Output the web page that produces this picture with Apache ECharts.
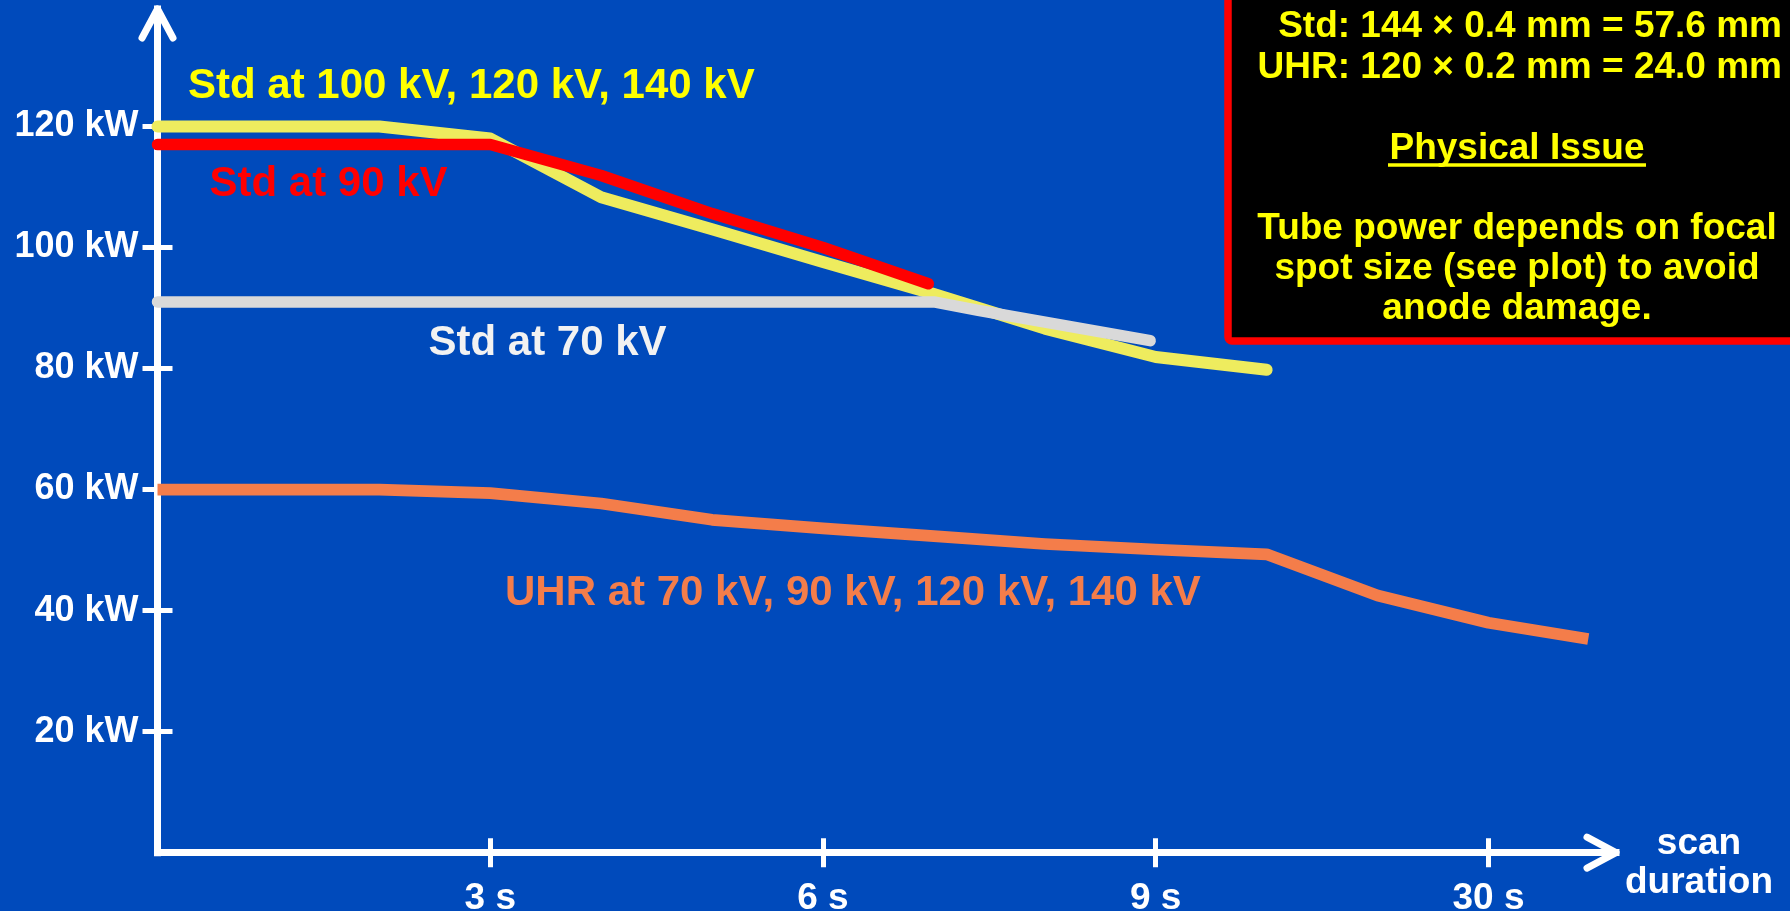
<!DOCTYPE html>
<html><head><meta charset="utf-8">
<script src="https://cdn.jsdelivr.net/npm/echarts@6/dist/echarts.min.js"></script>
<style>html,body{margin:0;padding:0;background:#004ABB;overflow:hidden;} #c{width:1790px;height:911px;}</style>
</head><body><div id="c"></div>
<script>
// ---- data ----
const xTickValues = [3, 6, 9, 12];
const xTickLabels = ['3 s', '6 s', '9 s', '30 s'];
const yTickValues = [20, 40, 60, 80, 100, 120];
const xAxisName = ['scan', 'duration'];
const stdHighKV = [[0,120],[2,120],[3,118],[4,108.3],[5,103],[6,97.6],[7,92.3],[8,86.6],[9,81.9],[10,79.8]];
const std90KV = [[0,117],[3,117],[4,111.9],[5,105.6],[6,100],[6.95,94]];
const std70KV = [[0,91],[7,91],[7.4,89.6],[8.95,84.6]];
const uhrAll = [[0,60],[2,60],[3,59.4],[4,57.7],[5,55],[6,53.6],[7,52.3],[8,51],[9,50.1],[10,49.3],[11,42.5],[12,38],[12.9,35.3]];
const xMax = 13.15, yMax = 139.4;

const FONT = '"Liberation Sans", Arial, sans-serif';
const WHITE = '#ffffff';

const chart = echarts.init(document.getElementById('c'), null, {renderer: 'canvas'});

function lineSeries(name, data, color, width, cap, z) {
  return {
    name, type: 'line', data, symbol: 'none', smooth: false, silent: true,
    clip: true, z,
    lineStyle: {color, width, cap, join: 'round'}
  };
}

const labelStyle = {color: WHITE, fontWeight: 'bold', fontFamily: FONT};

chart.setOption({
  animation: false,
  backgroundColor: '#004ABB',
  grid: {left: 157.5, right: 174, top: 9, bottom: 58.3, containLabel: false, outerBoundsMode: 'none'},
  xAxis: [
    {
      type: 'value', min: 0, max: xMax, interval: 3, position: 'bottom',
      axisLine: {show: true, onZero: false, lineStyle: {color: WHITE, width: 7, cap: 'square'}},
      axisTick: {show: true, inside: false, length: 14.5, customValues: xTickValues, lineStyle: {color: WHITE, width: 5}},
      axisLabel: Object.assign({customValues: xTickValues, fontSize: 37, margin: 28,
        formatter: v => xTickLabels[xTickValues.indexOf(v)]}, labelStyle),
      splitLine: {show: false}
    },
    {
      type: 'value', min: 0, max: xMax, interval: 3, position: 'bottom',
      axisLine: {show: false, onZero: false},
      axisTick: {show: true, inside: true, length: 14.5, customValues: xTickValues, lineStyle: {color: WHITE, width: 5}},
      axisLabel: {show: false}, splitLine: {show: false}
    }
  ],
  yAxis: [
    {
      type: 'value', min: 0, max: yMax, interval: 20, position: 'left',
      axisLine: {show: true, onZero: false, lineStyle: {color: WHITE, width: 7, cap: 'square'}},
      axisTick: {show: true, inside: false, length: 15, customValues: yTickValues, lineStyle: {color: WHITE, width: 5}},
      axisLabel: Object.assign({customValues: yTickValues, fontSize: 36, margin: 19,
        formatter: v => v + ' kW'}, labelStyle),
      splitLine: {show: false}
    },
    {
      type: 'value', min: 0, max: yMax, interval: 20, position: 'left',
      axisLine: {show: false, onZero: false},
      axisTick: {show: true, inside: true, length: 15, customValues: yTickValues, lineStyle: {color: WHITE, width: 5}},
      axisLabel: {show: false}, splitLine: {show: false}
    }
  ],
  series: [
    lineSeries('Std at 100 kV, 120 kV, 140 kV', stdHighKV, '#EEEC5E', 12, 'round', 2),
    lineSeries('Std at 90 kV', std90KV, '#FF0000', 11.5, 'round', 3),
    lineSeries('Std at 70 kV', std70KV, '#D9D9D9', 11.5, 'round', 4),
    lineSeries('UHR at 70 kV, 90 kV, 120 kV, 140 kV', uhrAll, '#F47D4A', 11.7, 'butt', 5)
  ]
});

// arrow heads and axis name at the axis ends, positioned via the chart's own scales
const tipX = chart.convertToPixel({xAxisIndex: 0, yAxisIndex: 0}, [xMax, 0]);
const tipY = chart.convertToPixel({xAxisIndex: 0, yAxisIndex: 0}, [0, yMax]);
const AB = 29, AS = 15.5;

function txt(text, x, y, color, size, align) {
  return {type: 'text', x, y, z: 20, silent: true,
    style: {text, fill: color, fontSize: size, fontWeight: 'bold', fontFamily: FONT, align: align || 'left', verticalAlign: 'middle'}};
}

const YEL = '#FFFF00';
chart.setOption({
  graphic: [
    {type: 'polyline', z: 10, silent: true,
      shape: {points: [[tipX[0] - AB, tipX[1] - AS], [tipX[0], tipX[1]], [tipX[0] - AB, tipX[1] + AS]]},
      style: {stroke: WHITE, lineWidth: 7, lineCap: 'round', lineJoin: 'round', fill: null}},
    {type: 'polyline', z: 10, silent: true,
      shape: {points: [[tipY[0] - AS, tipY[1] + AB], [tipY[0], tipY[1]], [tipY[0] + AS, tipY[1] + AB]]},
      style: {stroke: WHITE, lineWidth: 7, lineCap: 'round', lineJoin: 'round', fill: null}},
    txt(xAxisName[0], tipX[0] + 83, tipX[1] - 9, WHITE, 37, 'center'),
    txt(xAxisName[1], tipX[0] + 83, tipX[1] + 30, WHITE, 37, 'center'),
    txt('Std at 100 kV, 120 kV, 140 kV', 188, 86, YEL, 42),
    txt('Std at 90 kV', 209.5, 184, '#FF0000', 42),
    txt('Std at 70 kV', 428.5, 343, '#F2F2F2', 42),
    txt('UHR at 70 kV, 90 kV, 120 kV, 140 kV', 505, 593, '#F47D4A', 42),
    {type: 'rect', z: 15, silent: true,
      shape: {x: 1228, y: -10, width: 600, height: 351, r: 4},
      style: {fill: '#000000', stroke: '#FF0000', lineWidth: 7.5}},
    txt('Std: 144 × 0.4 mm = 57.6 mm', 1782, 27, YEL, 37, 'right'),
    txt('UHR: 120 × 0.2 mm = 24.0 mm', 1782, 68, YEL, 37, 'right'),
    txt('Physical Issue', 1517, 148.5, YEL, 37, 'center'),
    {type: 'line', z: 20, silent: true, shape: {x1: 1388, y1: 165, x2: 1646, y2: 165},
      style: {stroke: YEL, lineWidth: 3.3}},
    txt('Tube power depends on focal', 1517, 229, YEL, 37, 'center'),
    txt('spot size (see plot) to avoid', 1517, 269, YEL, 37, 'center'),
    txt('anode damage.', 1517, 309, YEL, 37, 'center')
  ]
});
</script>
</body></html>
